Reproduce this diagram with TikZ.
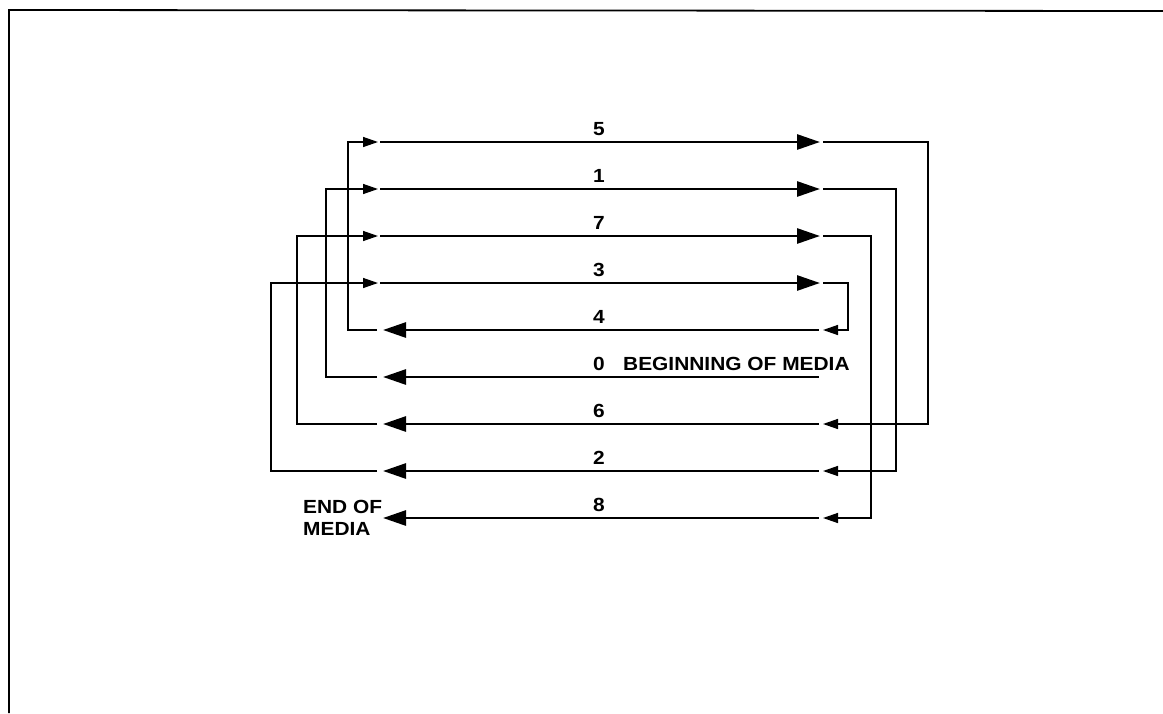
\documentclass[tikz,border=0pt]{standalone}
\usepackage{fontspec}
\newfontfamily\tapefont[FakeStretch=1.1]{Liberation Sans}
\usetikzlibrary{arrows.meta}

\begin{document}
\begin{tikzpicture}[x=1pt,y=-1pt,
  frame/.style={line width=1.8pt},
  track/.style={line width=2.8pt},
  link/.style={line width=1.4pt, line join=miter},
  fwdtrack/.style={track, -{Triangle[length=23pt,width=15pt]}},
  revtrack/.style={track, {Triangle[length=23pt,width=15pt]}-},
  feed/.style={link, -{Triangle[length=15pt,width=10pt]}},
  lbl/.style={font=\tapefont\bfseries\fontsize{19}{22}\selectfont, inner sep=0pt},
  num/.style={lbl, anchor=base},
]
\useasboundingbox (0,0) rectangle (1163,713);

% page border (top and left edges)
\draw[frame] (9,713) -- (9,10) -- (1163,11);

% forward tracks: 5, 1, 7, 3
\foreach \n/\y in {5/142, 1/189, 7/236, 3/283} {
  \coordinate (in\n)  at (378,\y);
  \coordinate (out\n) at (823,\y);
  \draw[fwdtrack] (380,\y) -- (820,\y);
  \node[num] (n\n) at (599,\y-7) {\n};
}
% reverse tracks: 4, 0, 6, 2, 8
\foreach \n/\y in {4/330, 0/377, 6/424, 2/471, 8/518} {
  \coordinate (out\n) at (377,\y);
  \coordinate (in\n)  at (823,\y);
  \node[num] (n\n) at (599,\y-7) {\n};
}
\draw[revtrack] (383,330) -- (819,330);
\draw[revtrack] (383,377) -- (819,377);
\draw[revtrack] (383,424) -- (819,424);
\draw[revtrack] (383,471) -- (819,471);
\draw[revtrack] (383,518) -- (819,518);

% turn-around columns
\coordinate (rv3) at (848,306);
\coordinate (rv7) at (871,377);
\coordinate (rv1) at (896,330);
\coordinate (rv5) at (928,283);
\coordinate (lv4) at (348,236);
\coordinate (lv0) at (326,283);
\coordinate (lv6) at (297,330);
\coordinate (lv2) at (271,377);

% right-hand turn-arounds
\draw[feed] (out3) -| (rv3) |- (in4);
\draw[feed] (out5) -| (rv5) |- (in6);
\draw[feed] (out1) -| (rv1) |- (in2);
\draw[feed] (out7) -| (rv7) |- (in8);

% left-hand turn-arounds
\draw[feed] (out4) -| (lv4) |- (in5);
\draw[feed] (out0) -| (lv0) |- (in1);
\draw[feed] (out6) -| (lv6) |- (in7);
\draw[feed] (out2) -| (lv2) |- (in3);

% end labels (a multi-line node sits on its last baseline)
\node[lbl, anchor=base west] (bom) at (623,370) {BEGINNING OF MEDIA};
\node[lbl, anchor=base west, align=left] (eom) at (303,535) {END OF\\MEDIA};
\end{tikzpicture}
\end{document}
